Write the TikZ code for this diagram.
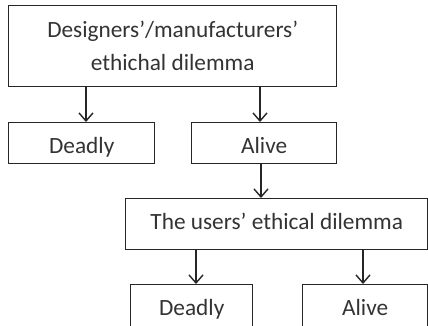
\documentclass[tikz,border=0pt]{standalone}
\usepackage{fontspec}
\setmainfont{Carlito}
\usetikzlibrary{arrows.meta}
\begin{document}
\begin{tikzpicture}[x=1pt,y=-1pt,
  box/.style={draw=black!85,line width=1.4pt,rectangle,inner sep=0pt,anchor=north west,font=\fontsize{23.3}{33}\selectfont,text=black!80},
  one/.style={text height=16pt,text depth=5pt},
  arr/.style={draw=black!85,line width=1.4pt,-{Straight Barb[length=8pt,width=14pt,line width=1.4pt]}}]
\useasboundingbox (0,0) rectangle (428,325);
\clip (0,0) rectangle (428,325);
\node[box,minimum width=328pt,minimum height=81pt,align=center] (top) at (8,5) {Designers’/manufacturers’\\ethichal dilemma};
\node[box,one,text height=26pt,minimum width=146pt,minimum height=41pt] (d1) at (8,122) {Deadly};
\node[box,one,text height=26pt,minimum width=145pt,minimum height=41pt] (a1) at (191,122) {Alive};
\node[box,one,minimum width=302pt,minimum height=51pt] (u) at (125,198) {The users’ ethical dilemma};
\node[box,one,minimum width=122pt,minimum height=51pt] (d2) at (130,284) {Deadly};
\node[box,one,minimum width=125pt,minimum height=51pt] (a2) at (302,284) {Alive};
\draw[arr] (top.south -| 86,0) -- (d1.north -| 86,0);
\draw[arr] (top.south -| 260,0) -- (a1.north -| 260,0);
\draw[arr] (a1.south -| 261,0) -- (u.north -| 261,0);
\draw[arr] (u.south -| 196,0) -- (d2.north -| 196,0);
\draw[arr] (u.south -| 363,0) -- (a2.north -| 363,0);
\end{tikzpicture}
\end{document}
